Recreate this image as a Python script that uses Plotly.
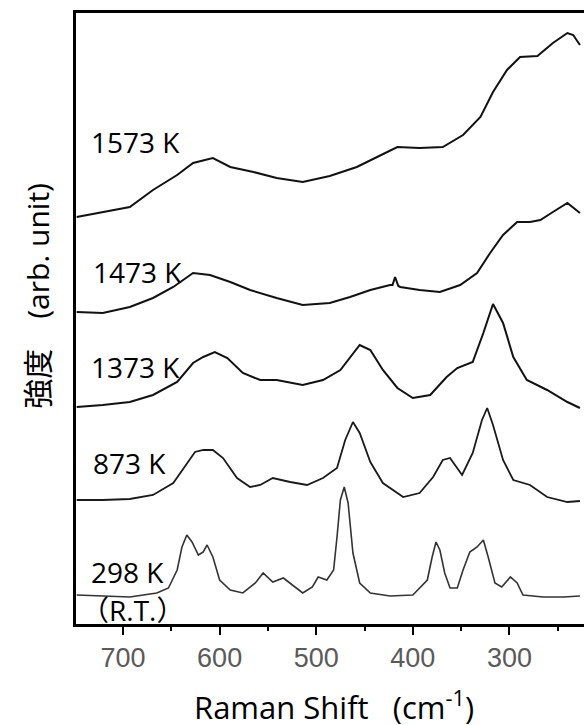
import plotly.graph_objects as go

# Raman shift (cm^-1) and intensity (arb. unit, stacked)
shift_1573 = [748, 721, 693, 669, 644, 627.5, 607, 589, 565, 541, 514, 486, 458, 437, 416, 393, 369, 348, 330, 317, 302.5, 289, 271, 255, 240, 234, 227]
int_1573 = [407, 412, 417, 434, 449, 461, 466, 457, 452, 446, 442, 448, 457, 467, 477, 476, 477, 489, 507, 532, 554, 567, 568, 581, 591, 589, 579]

shift_1473 = [748, 721, 693, 669, 648, 627.5, 610, 589, 568.5, 541, 514, 486, 465, 444, 423.6, 421, 418.4, 415, 413, 393, 372, 351, 333.5, 320, 306.6, 292, 278.7, 268, 255, 240, 227]
int_1473 = [312, 311, 317, 326, 337, 351, 349, 342, 334, 326, 319, 321, 327, 334, 339, 339, 347, 338, 337, 334, 332, 339, 351, 371, 389, 402, 402, 404, 412, 421, 411]

shift_1373 = [748, 721, 693, 669, 644, 627.5, 617, 605, 592, 576, 558, 541, 514, 493, 475, 465, 455, 444, 431, 416, 400, 382, 365, 354, 338, 327, 317, 306.6, 296, 282, 261, 240, 227]
int_1373 = [217, 219, 222, 229, 242, 261, 267, 272, 266, 251, 244, 244, 239, 244, 254, 267, 279, 274, 254, 236, 226, 229, 247, 256, 262, 291, 320, 301, 267, 244, 234, 222, 216]

shift_873 = [748, 721, 693, 669, 648, 636, 625.5, 617, 607, 596.5, 582, 568.5, 558, 545, 527, 509.5, 493, 478.5, 470, 462, 455, 444, 431, 410, 393, 379, 369, 361.5, 349, 338, 328.4, 323, 317, 306.6, 296, 278.7, 261, 240, 227]
int_873 = [124, 124, 125, 129, 141, 157, 172, 174, 174, 166, 146, 137, 139, 146, 142, 139, 146, 156, 184, 202, 191, 162, 141, 127, 131, 147, 164, 166, 149, 171, 204, 216, 199, 164, 144, 139, 127, 122, 123]

shift_298 = [748, 721, 693, 665, 653, 644, 639, 634, 628.6, 622, 617, 613, 607, 600, 589, 576, 563, 555, 545, 534, 525, 514, 504, 498, 489, 482, 478.5, 475, 471, 467, 462, 455, 444, 423.6, 400, 385, 380, 376, 372, 367, 361.5, 354, 348, 341, 333.5, 327, 322, 315, 308, 299, 292, 286, 265, 244, 227]
int_298 = [29, 28, 27, 31, 36, 54, 77, 89, 82, 69, 72, 79, 67, 44, 34, 31, 41, 51, 42, 46, 39, 31, 37, 47, 44, 54, 87, 124, 137, 121, 71, 41, 31, 28, 29, 44, 67, 82, 74, 51, 36, 36, 54, 72, 77, 84, 67, 41, 37, 47, 41, 29, 27, 27, 28]

series = [
    ("1573 K", shift_1573, int_1573, "#111111", 2),
    ("1473 K", shift_1473, int_1473, "#111111", 2),
    ("1373 K", shift_1373, int_1373, "#111111", 2),
    ("873 K", shift_873, int_873, "#1a1a1a", 1.8),
    ("298 K", shift_298, int_298, "#333333", 1.6),
]

label_texts = ["1573 K", "1473 K", "1373 K", "873 K", "298 K", "（R.T.）"]
label_x = [735, 733, 735, 733, 735, 746]
label_y = [482, 352, 257, 161, 52, 14]

tick_vals = [700, 600, 500, 400, 300]
tick_text = ["700", "600", "500", "400", "300"]

fig = go.Figure()
for name, xs, ys, col, w in series:
    fig.add_trace(go.Scatter(x=xs, y=ys, mode="lines", name=name,
                             line=dict(color=col, width=w), showlegend=False))

for t, lx, ly in zip(label_texts, label_x, label_y):
    fig.add_annotation(x=lx, y=ly, xref="x", yref="y", text=t, showarrow=False,
                       xanchor="left", yanchor="middle",
                       font=dict(family="Open Sans, Noto Sans CJK JP", size=28, color="#000000"))

fig.add_annotation(x=0.508, y=-0.133, xref="paper", yref="paper",
                   text="Raman Shift\u00a0\u00a0\u00a0(cm<sup>-1</sup>)", showarrow=False,
                   xanchor="center", yanchor="middle",
                   font=dict(family="Open Sans", size=31, color="#000000"))
fig.add_annotation(x=-0.075, y=0.537, xref="paper", yref="paper",
                   text="強度\u3000(arb. unit)", showarrow=False, textangle=-90,
                   xanchor="center", yanchor="middle",
                   font=dict(family="Open Sans, Noto Sans CJK JP", size=30, color="#000000"))

fig.update_layout(
    width=584, height=725,
    margin=dict(l=76, r=0, t=13, b=101),
    paper_bgcolor="white", plot_bgcolor="white",
    xaxis=dict(range=[748.7, 222.8], tickvals=tick_vals, ticktext=tick_text,
               ticks="outside", ticklen=8, tickwidth=2, tickcolor="#000",
               showline=True, linecolor="#000", linewidth=3, mirror=True,
               showgrid=False, zeroline=False,
               tickfont=dict(family="Liberation Sans", size=27, color="#5a5a5a"),
               minor=dict(dtick=50, tick0=0, ticks="outside", ticklen=4, tickwidth=2, tickcolor="#000")),
    yaxis=dict(range=[0, 611], showticklabels=False, ticks="",
               showline=True, linecolor="#000", linewidth=3,
               showgrid=False, zeroline=False),
)

fig.write_html("out.html", config={"displayModeBar": False},
               post_script="document.body.style.margin='0';document.body.style.overflow='hidden';")
